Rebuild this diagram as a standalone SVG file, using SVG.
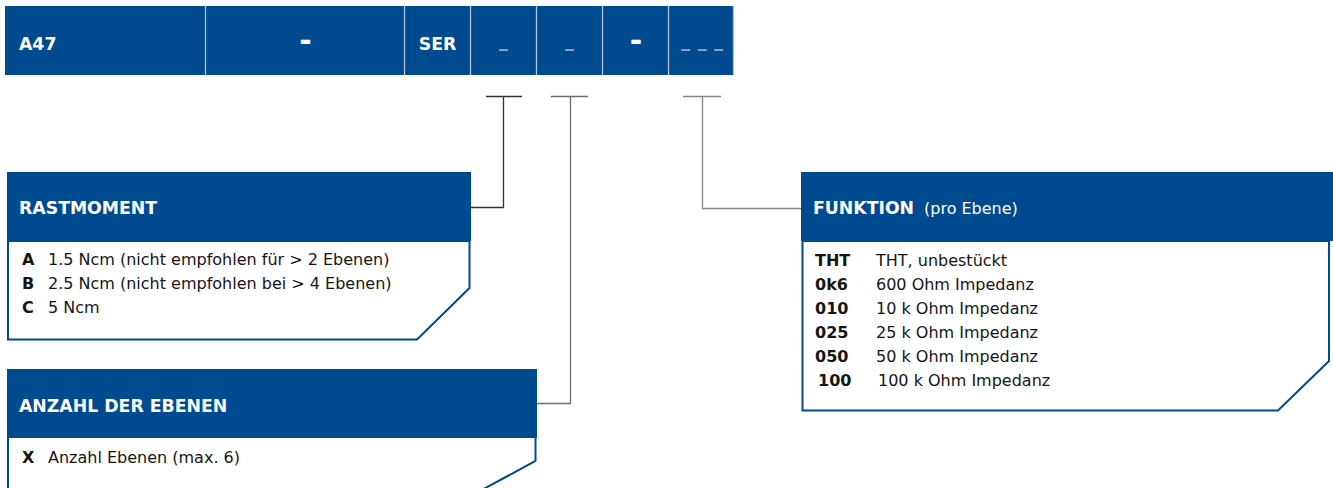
<svg xmlns="http://www.w3.org/2000/svg" width="1333" height="488" viewBox="0 0 1333 488">
<style>
.cell{fill:#004a8f}
.sep{stroke:#b3c3dc;stroke-width:1.3}
.hb{font-family:"DejaVu Sans",sans-serif;font-weight:bold;font-size:17.3px;fill:#fff}
.dash{font-family:"DejaVu Sans",sans-serif;font-weight:bold;font-size:30px;fill:#fff;text-anchor:middle}
.us{font-family:"DejaVu Sans",sans-serif;font-weight:bold;font-size:18px;fill:#8ea8cf;text-anchor:middle}
.hdr{fill:#004a8f}
.body{fill:#fff;stroke:#004a8f;stroke-width:2}
.bodyline{fill:none;stroke:#004a8f;stroke-width:2}
.t{font-family:"DejaVu Sans",sans-serif;font-size:16px;fill:#151515}
.tb{font-family:"DejaVu Sans",sans-serif;font-size:16px;font-weight:bold;fill:#151515}
.c1{fill:none;stroke:#333;stroke-width:1.3}
.c2{fill:none;stroke:#6e6e6e;stroke-width:1.3}
.c3{fill:none;stroke:#858585;stroke-width:1.3}
</style>
<g id="codebar">
<rect class="cell" x="5" y="6" width="729" height="69"/>
<line class="sep" x1="205.5" y1="6" x2="205.5" y2="75"/>
<line class="sep" x1="404.5" y1="6" x2="404.5" y2="75"/>
<line class="sep" x1="470.5" y1="6" x2="470.5" y2="75"/>
<line class="sep" x1="536.5" y1="6" x2="536.5" y2="75"/>
<line class="sep" x1="602.5" y1="6" x2="602.5" y2="75"/>
<line class="sep" x1="668.5" y1="6" x2="668.5" y2="75"/>
<line class="sep" x1="733.5" y1="6" x2="733.5" y2="75"/>
<text class="hb" x="19" y="49.5">A47</text>
<text class="dash" x="305.5" y="51">-</text>
<text class="hb" x="437.5" y="49.5" text-anchor="middle">SER</text>
<text class="us" x="503.5" y="46.5">_</text>
<text class="us" x="569.5" y="46.5">_</text>
<text class="dash" x="636" y="51">-</text>
<text class="us" x="702" y="46.5" textLength="42" lengthAdjust="spacing">_ _ _</text>
</g>
<g id="connectors">
<path class="c1" d="M486,96.5 H522 M503.5,96.5 V207.5 H471"/>
<path class="c2" d="M551,96.5 H588 M570.5,96.5 V403.5 H537"/>
<path class="c3" d="M683,96.5 H721 M702.5,96.5 V208.5 H801"/>
</g>
<g id="rastmoment">
<path class="body" d="M8,241 V339.5 H417 L469.5,288 V241 Z"/>
<rect class="hdr" x="7" y="172" width="464" height="69"/>
<text class="hb" x="19" y="214">RASTMOMENT</text>
<text class="tb" x="22" y="265">A</text><text class="t" x="48" y="265">1.5 Ncm (nicht empfohlen für &gt; 2 Ebenen)</text>
<text class="tb" x="22" y="289">B</text><text class="t" x="48" y="289">2.5 Ncm (nicht empfohlen bei &gt; 4 Ebenen)</text>
<text class="tb" x="22" y="313">C</text><text class="t" x="48" y="313">5 Ncm</text>
</g>
<g id="anzahl">
<rect x="8" y="438" width="527" height="60" fill="#fff"/>
<path class="bodyline" d="M8,438 V492 M535.5,438 V461 L478,492"/>
<rect class="hdr" x="7" y="369" width="530" height="69"/>
<text class="hb" x="19" y="411.5">ANZAHL DER EBENEN</text>
<text class="tb" x="22" y="463">X</text><text class="t" x="48" y="463">Anzahl Ebenen (max. 6)</text>
</g>
<g id="funktion">
<path class="body" d="M802.5,241 V410.5 H1278 L1329,361 V241 Z"/>
<rect class="hdr" x="801" y="172" width="532" height="69"/>
<text class="hb" x="813" y="214">FUNKTION<tspan x="924" font-weight="normal" font-size="16px">(pro Ebene)</tspan></text>
<text class="tb" x="815" y="266">THT</text><text class="t" x="876" y="266">THT, unbestückt</text>
<text class="tb" x="815" y="290">0k6</text><text class="t" x="876" y="290">600 Ohm Impedanz</text>
<text class="tb" x="815" y="314">010</text><text class="t" x="876" y="314">10 k Ohm Impedanz</text>
<text class="tb" x="815" y="338">025</text><text class="t" x="876" y="338">25 k Ohm Impedanz</text>
<text class="tb" x="815" y="362">050</text><text class="t" x="876" y="362">50 k Ohm Impedanz</text>
<text class="tb" x="818" y="386">100</text><text class="t" x="878" y="386">100 k Ohm Impedanz</text>
</g>
</svg>
